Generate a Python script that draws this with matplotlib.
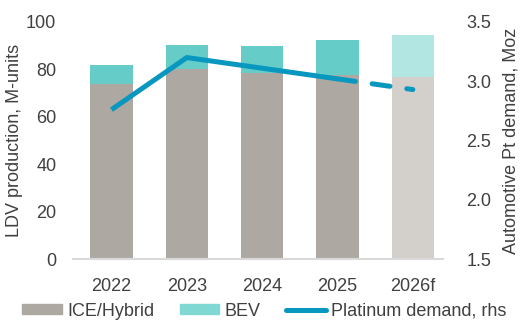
import matplotlib
matplotlib.use('Agg')
import matplotlib.pyplot as plt
from matplotlib.patches import Patch
from matplotlib.lines import Line2D
import numpy as np

years = ['2022', '2023', '2024', '2025', '2026f']
ice_hybrid = [74, 80, 78.5, 77.5, 77]
bev = [8, 10.5, 11.5, 15, 17.5]
pt_demand = [2.76, 3.20, 3.11, 3.02, 2.93]

plt.rcParams['font.family'] = ['Liberation Sans', 'DejaVu Sans']
txt = '#404040'
fs = 13

fig = plt.figure(figsize=(5.32, 3.27), dpi=100)
ax = fig.add_axes([73/532, 1 - 259/327, 370/532, 237/327])
ax2 = ax.twinx()

x = np.arange(len(years))
ice_cols = ['#ada8a2'] * 4 + ['#d3d0cc']
bev_cols = ['#66ccc7'] * 4 + ['#b2e6e3']
ax.bar(x, ice_hybrid, width=0.56, color=ice_cols, zorder=2)
ax.bar(x, bev, width=0.56, bottom=ice_hybrid, color=bev_cols, zorder=2)

line_col = '#0797bf'
ax2.plot(x[:4], pt_demand[:4], color=line_col, lw=3.6, solid_capstyle='butt')
ax2.plot(x[3:], pt_demand[3:], color=line_col, lw=3.6, dashes=(3.6, 3.4),
         dash_capstyle='round')

ax.set_xlim(-0.51, 4.40)
ax.set_ylim(0, 100)
ax.set_yticks(range(0, 101, 20))
ax2.set_ylim(1.5, 3.5)
ax2.set_yticks([1.5, 2.0, 2.5, 3.0, 3.5])
ax2.set_yticklabels(['1.5', '2.0', '2.5', '3.0', '3.5'])
ax.set_xticks(x)
ax.set_xticklabels(years)

for a in (ax, ax2):
    for s in a.spines.values():
        s.set_visible(False)
    a.tick_params(length=0, labelsize=fs, colors=txt)
ax.spines['bottom'].set_visible(True)
ax.spines['bottom'].set_color('#d9d9d9')
ax.spines['bottom'].set_linewidth(1.5)
ax.tick_params(axis='x', pad=14)
ax.tick_params(axis='y', pad=12)
ax2.tick_params(axis='y', pad=17)

ax.set_ylabel('LDV production, M-units', fontsize=fs, color=txt, labelpad=2)
ax2.set_ylabel('Automotive Pt demand, Moz', fontsize=fs, color=txt, labelpad=8)

handles = [Patch(color='#ada8a2'), Patch(color='#80d8d3'),
           Line2D([0], [0], color=line_col, lw=3.6, solid_capstyle='round')]
labels = ['ICE/Hybrid', 'BEV', 'Platinum demand, rhs']
fig.legend(handles, labels, loc='center', bbox_to_anchor=(0.497, 1 - 311/327),
           ncol=3, frameon=False, fontsize=fs, labelcolor=txt,
           handlelength=2.2, handleheight=0.4, handletextpad=0.3,
           columnspacing=1.4, borderaxespad=0)

fig.savefig('out.png', dpi=100)
